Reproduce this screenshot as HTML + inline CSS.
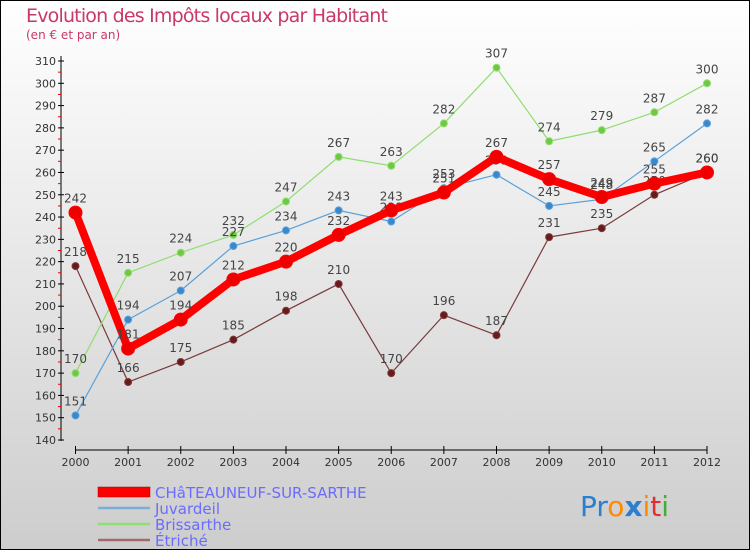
<!DOCTYPE html>
<html><head><meta charset="utf-8"><style>
body{margin:0}
#c{width:750px;height:550px;position:relative;overflow:hidden}
svg text{font-family:"DejaVu Sans","Liberation Sans",sans-serif}
</style></head><body>
<div id="c">
<svg id="s" width="750" height="550" xmlns="http://www.w3.org/2000/svg">
<defs><linearGradient id="bg" x1="0" y1="0" x2="0" y2="1"><stop offset="0" stop-color="#ffffff"/><stop offset="1" stop-color="#cdcdcd"/></linearGradient></defs>
<rect x="0.5" y="0.5" width="749" height="549" fill="url(#bg)" stroke="#000"/>
<text x="26" y="22" font-size="19" fill="#c8386a" textLength="362">Evolution des Impôts locaux par Habitant</text>
<text x="26" y="39" font-size="12" fill="#c8386a">(en € et par an)</text>
<g id="axes"></g><g id="series"></g>
<g>
<rect x="98" y="487" width="52" height="10" fill="#ff0000" stroke="#a00" stroke-width="0.5"/>
<text x="155" y="498" font-size="15" fill="#6b6bff">CHâTEAUNEUF-SUR-SARTHE</text>
<line x1="98" y1="508" x2="150" y2="508" stroke="#7aaed6" stroke-width="2.5"/>
<text x="155" y="514" font-size="15" fill="#6b6bff">Juvardeil</text>
<line x1="98" y1="524" x2="150" y2="524" stroke="#90dd70" stroke-width="2.5"/>
<text x="155" y="530" font-size="15" fill="#6b6bff">Brissarthe</text>
<line x1="98" y1="540" x2="150" y2="540" stroke="#a06a6a" stroke-width="2.5"/>
<text x="155" y="546" font-size="15" fill="#6b6bff">Étriché</text>
</g>
<g font-size="28" font-family="'DejaVu Sans',sans-serif">
<text x="580" y="516"><tspan fill="#2a7fd0">Pr</tspan><tspan fill="#ff8a00">o</tspan><tspan fill="#2a7fd0" font-weight="bold">x</tspan><tspan fill="#ff8a00">i</tspan><tspan fill="#e03030">t</tspan><tspan fill="#40b030">i</tspan></text>
</g>
</svg></div>
<script>
const years=[2000,2001,2002,2003,2004,2005,2006,2007,2008,2009,2010,2011,2012];
const yTicks=[140,150,160,170,180,190,200,210,220,230,240,250,260,270,280,290,300,310];
const chateauneuf=[242,181,194,212,220,232,243,251,267,257,249,255,260];
const juvardeil=[151,194,207,227,234,243,238,253,259,245,248,265,282];
const brissarthe=[170,215,224,232,247,267,263,282,307,274,279,287,300];
const etriche=[218,166,175,185,198,210,170,196,187,231,235,250,260];
const NS='http://www.w3.org/2000/svg';
const x=i=>75.5+i*(707-75.5)/(years.length-1);
const y=v=>61+(310-v)*379/170;
function mk(t,a,p){const e=document.createElementNS(NS,t);for(const k in a)e.setAttribute(k,a[k]);p.appendChild(e);return e;}
const ax=document.getElementById('axes');
const yl=mk('line',{x1:61,y1:56,x2:61,y2:441,stroke:'#000'},ax);


yTicks.forEach(v=>{
 mk('line',{x1:58,x2:64,y1:y(v),y2:y(v),stroke:'#000'},ax);
 if(v<310)mk('line',{x1:58,x2:61,y1:y(v+5),y2:y(v+5),stroke:'#e00'},ax);
 const t=mk('text',{x:56,y:y(v)+4,'font-size':11,'text-anchor':'end',fill:'#333'},ax);t.textContent=v;
 
 
});
const xl=mk('line',{x1:75.5,y1:450,x2:707,y2:450,stroke:'#000'},ax);


years.forEach((yr,i)=>{
 mk('line',{x1:x(i),x2:x(i),y1:446,y2:454,stroke:'#000'},ax);
 const t=mk('text',{x:x(i),y:466,'font-size':11,'text-anchor':'middle',fill:'#333'},ax);t.textContent=yr;
 
 
});
const sg=document.getElementById('series');
function draw(vals,name,color,dot,w,r){
 const g=mk('g',{},sg);
 
 
 const pl=mk('polyline',{points:vals.map((v,i)=>x(i)+','+y(v)).join(' '),fill:'none',stroke:color,'stroke-width':w,'stroke-linejoin':'round'},g);
 
 
 vals.forEach((v,i)=>{
  const c=mk('circle',{cx:x(i),cy:y(v),r:r,fill:dot,stroke:color,'stroke-width':1},g);
  
  
  const t=mk('text',{x:x(i),y:y(v)-10,'font-size':12,'text-anchor':'middle',fill:'#444'},g);t.textContent=v;
  
  
 });
}
draw(etriche,'etriche','#7a3a3a','#6a1a1a',1.2,3.5);
draw(brissarthe,'brissarthe','#90dd70','#70c840',1.2,3.5);
draw(juvardeil,'juvardeil','#5aa0d8','#3a88cc',1.2,3.5);
draw(chateauneuf,'chateauneuf','#ff0000','#ee0000',8,6.5);
</script>
</body></html>
